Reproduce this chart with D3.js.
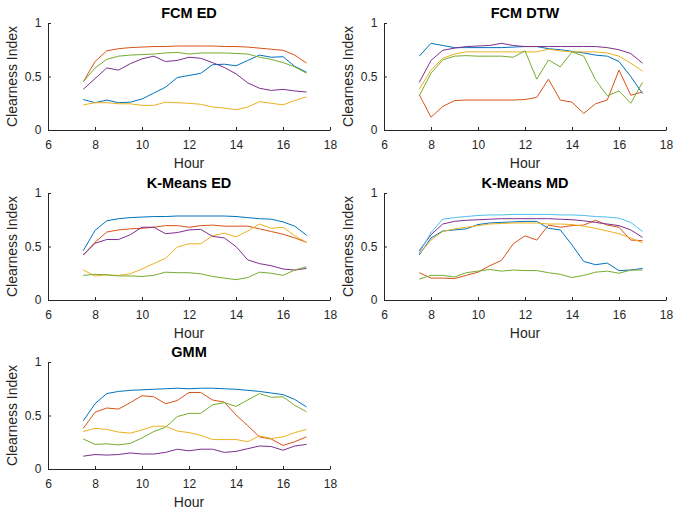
<!DOCTYPE html>
<html>
<head>
<meta charset="utf-8">
<script src="https://cdn.jsdelivr.net/npm/d3@7"></script>
<style>
	body { margin: 0; background: #fff; }
	svg { display: block; }
</style>
</head>
<body>
<svg id="chart"></svg>
<script>
const hours = [7.5, 8, 8.5, 9, 9.5, 10, 10.5, 11, 11.5, 12, 12.5, 13, 13.5, 14, 14.5, 15, 15.5, 16, 16.5, 17];
const xTicks = [6, 8, 10, 12, 14, 16, 18];
const yTicks = [0, 0.5, 1];
const yTickLabels = ['0', '0.5', '1'];

const blue = '#0072BD', orange = '#D95319', yellow = '#EDB120', purple = '#7E2F8E', green = '#77AC30', cyan = '#4DBEEE';

// FCM ED
const fcmEdBlue = [0.285, 0.255, 0.28, 0.255, 0.26, 0.29, 0.345, 0.40, 0.49, 0.51, 0.53, 0.61, 0.615, 0.60, 0.65, 0.70, 0.68, 0.685, 0.595, 0.54];
const fcmEdOrange = [0.45, 0.64, 0.74, 0.76, 0.77, 0.775, 0.78, 0.78, 0.785, 0.785, 0.785, 0.785, 0.78, 0.78, 0.775, 0.765, 0.755, 0.745, 0.70, 0.625];
const fcmEdYellow = [0.235, 0.255, 0.255, 0.245, 0.245, 0.23, 0.23, 0.26, 0.255, 0.25, 0.24, 0.215, 0.205, 0.19, 0.215, 0.265, 0.25, 0.235, 0.275, 0.31];
const fcmEdPurple = [0.38, 0.48, 0.58, 0.56, 0.62, 0.665, 0.69, 0.64, 0.65, 0.68, 0.67, 0.63, 0.585, 0.525, 0.44, 0.39, 0.37, 0.38, 0.365, 0.355];
const fcmEdGreen = [0.45, 0.58, 0.66, 0.69, 0.70, 0.705, 0.71, 0.72, 0.725, 0.71, 0.72, 0.72, 0.72, 0.715, 0.71, 0.68, 0.66, 0.63, 0.59, 0.53];

// FCM DTW
const fcmDtwBlue = [0.69, 0.81, 0.79, 0.77, 0.77, 0.77, 0.77, 0.77, 0.775, 0.78, 0.78, 0.76, 0.75, 0.735, 0.72, 0.70, 0.69, 0.64, 0.50, 0.34];
const fcmDtwOrange = [0.33, 0.12, 0.22, 0.275, 0.28, 0.28, 0.28, 0.28, 0.28, 0.285, 0.305, 0.475, 0.28, 0.26, 0.155, 0.245, 0.28, 0.56, 0.325, 0.355];
const fcmDtwYellow = [0.38, 0.56, 0.67, 0.71, 0.73, 0.73, 0.73, 0.73, 0.73, 0.73, 0.73, 0.755, 0.74, 0.73, 0.73, 0.73, 0.72, 0.69, 0.625, 0.55];
const fcmDtwPurple = [0.445, 0.65, 0.745, 0.765, 0.78, 0.785, 0.79, 0.81, 0.79, 0.78, 0.78, 0.78, 0.78, 0.78, 0.78, 0.78, 0.77, 0.75, 0.715, 0.625];
const fcmDtwGreen = [0.32, 0.53, 0.655, 0.69, 0.695, 0.69, 0.69, 0.69, 0.68, 0.74, 0.475, 0.655, 0.59, 0.73, 0.69, 0.47, 0.32, 0.365, 0.25, 0.445];

// K-Means ED
const kmEdBlue = [0.46, 0.65, 0.74, 0.76, 0.77, 0.775, 0.78, 0.78, 0.785, 0.785, 0.785, 0.785, 0.785, 0.78, 0.77, 0.76, 0.755, 0.73, 0.69, 0.605];
const kmEdOrange = [0.42, 0.54, 0.635, 0.655, 0.665, 0.67, 0.68, 0.695, 0.695, 0.68, 0.695, 0.70, 0.69, 0.69, 0.69, 0.665, 0.64, 0.615, 0.58, 0.54];
const kmEdYellow = [0.28, 0.225, 0.235, 0.23, 0.245, 0.29, 0.34, 0.39, 0.495, 0.525, 0.525, 0.60, 0.625, 0.59, 0.645, 0.71, 0.67, 0.68, 0.60, 0.54];
const kmEdPurple = [0.42, 0.53, 0.565, 0.565, 0.61, 0.68, 0.68, 0.62, 0.63, 0.655, 0.66, 0.595, 0.58, 0.50, 0.375, 0.34, 0.32, 0.29, 0.28, 0.295];
const kmEdGreen = [0.23, 0.24, 0.235, 0.225, 0.225, 0.22, 0.23, 0.26, 0.255, 0.255, 0.245, 0.22, 0.205, 0.19, 0.21, 0.26, 0.25, 0.23, 0.28, 0.31];

// K-Means MD
const kmMdBlue = [0.42, 0.58, 0.645, 0.655, 0.665, 0.705, 0.72, 0.725, 0.73, 0.735, 0.735, 0.67, 0.655, 0.515, 0.36, 0.33, 0.345, 0.275, 0.28, 0.295];
const kmMdOrange = [0.255, 0.205, 0.205, 0.20, 0.23, 0.26, 0.32, 0.37, 0.525, 0.60, 0.56, 0.70, 0.68, 0.695, 0.70, 0.745, 0.70, 0.68, 0.56, 0.555];
const kmMdYellow = [0.43, 0.56, 0.64, 0.665, 0.68, 0.695, 0.71, 0.715, 0.72, 0.72, 0.72, 0.71, 0.71, 0.705, 0.69, 0.67, 0.645, 0.62, 0.58, 0.535];
const kmMdPurple = [0.46, 0.61, 0.71, 0.735, 0.745, 0.75, 0.755, 0.76, 0.76, 0.76, 0.76, 0.76, 0.755, 0.75, 0.74, 0.725, 0.71, 0.695, 0.655, 0.585];
const kmMdGreen = [0.195, 0.23, 0.23, 0.215, 0.255, 0.27, 0.285, 0.27, 0.28, 0.275, 0.275, 0.255, 0.24, 0.21, 0.23, 0.26, 0.27, 0.25, 0.28, 0.28];
const kmMdCyan = [0.44, 0.63, 0.755, 0.77, 0.78, 0.79, 0.795, 0.795, 0.80, 0.80, 0.80, 0.80, 0.795, 0.795, 0.79, 0.78, 0.775, 0.765, 0.725, 0.64];

// GMM
const gmmBlue = [0.45, 0.61, 0.705, 0.725, 0.735, 0.74, 0.745, 0.75, 0.755, 0.75, 0.755, 0.755, 0.75, 0.745, 0.735, 0.725, 0.71, 0.695, 0.65, 0.58];
const gmmOrange = [0.38, 0.53, 0.57, 0.56, 0.62, 0.685, 0.675, 0.61, 0.64, 0.715, 0.715, 0.645, 0.625, 0.505, 0.405, 0.30, 0.28, 0.22, 0.255, 0.30];
const gmmYellow = [0.35, 0.38, 0.37, 0.345, 0.335, 0.365, 0.40, 0.40, 0.355, 0.34, 0.315, 0.275, 0.275, 0.275, 0.255, 0.31, 0.285, 0.30, 0.34, 0.37];
const gmmPurple = [0.12, 0.135, 0.13, 0.135, 0.15, 0.14, 0.14, 0.155, 0.185, 0.17, 0.185, 0.185, 0.155, 0.165, 0.19, 0.215, 0.21, 0.175, 0.215, 0.23];
const gmmGreen = [0.28, 0.23, 0.235, 0.225, 0.24, 0.29, 0.35, 0.39, 0.49, 0.52, 0.52, 0.60, 0.62, 0.585, 0.645, 0.705, 0.67, 0.675, 0.595, 0.535];

const panels = [
	{ title: 'FCM ED', left: 48, top: 23, series: [
		[fcmEdBlue, blue], [fcmEdOrange, orange], [fcmEdYellow, yellow], [fcmEdPurple, purple], [fcmEdGreen, green]] },
	{ title: 'FCM DTW', left: 384, top: 23, series: [
		[fcmDtwBlue, blue], [fcmDtwOrange, orange], [fcmDtwYellow, yellow], [fcmDtwPurple, purple], [fcmDtwGreen, green]] },
	{ title: 'K-Means ED', left: 48, top: 193, series: [
		[kmEdBlue, blue], [kmEdOrange, orange], [kmEdYellow, yellow], [kmEdPurple, purple], [kmEdGreen, green]] },
	{ title: 'K-Means MD', left: 384, top: 193, series: [
		[kmMdBlue, blue], [kmMdOrange, orange], [kmMdYellow, yellow], [kmMdPurple, purple], [kmMdGreen, green], [kmMdCyan, cyan]] },
	{ title: 'GMM', left: 48, top: 362, series: [
		[gmmBlue, blue], [gmmOrange, orange], [gmmYellow, yellow], [gmmPurple, purple], [gmmGreen, green]] }
];

const width = 673, height = 510;
const plotW = 282, plotH = 107;

const svg = d3.select('#chart')
	.attr('width', width)
	.attr('height', height)
	.style('font-family', 'Liberation Sans, Arial, sans-serif');

panels.forEach((p) => {
	const g = svg.append('g').attr('transform', `translate(${p.left},${p.top})`);

	const x = d3.scaleLinear().domain([6, 18]).range([0, plotW]);
	const y = d3.scaleLinear().domain([0, 1]).range([plotH, 0]);

	// x axis, ticks pointing inward
	g.append('g')
		.attr('transform', `translate(0,${plotH})`)
		.call(d3.axisBottom(x).tickValues(xTicks).tickSizeInner(-3).tickSizeOuter(0).tickPadding(10.5))
		.call((a) => a.select('.domain').attr('stroke', '#262626'))
		.call((a) => a.selectAll('.tick line').attr('stroke', '#262626'))
		.call((a) => a.selectAll('.tick text').attr('fill', '#262626').style('font-size', '12px'));

	// y axis
	g.append('g')
		.call(d3.axisLeft(y).tickValues(yTicks).tickFormat((d, i) => yTickLabels[i]).tickSizeInner(-3).tickSizeOuter(0).tickPadding(6.5))
		.call((a) => a.select('.domain').attr('stroke', '#262626'))
		.call((a) => a.selectAll('.tick line').attr('stroke', '#262626'))
		.call((a) => a.selectAll('.tick text').attr('fill', '#262626').style('font-size', '12px'));

	const line = d3.line().x((d, i) => x(hours[i])).y((d) => y(d));

	p.series.forEach(([vals, col]) => {
		g.append('path')
			.datum(vals)
			.attr('fill', 'none')
			.attr('stroke', col)
			.attr('stroke-width', 1)
			.attr('d', line);
	});

	// title
	g.append('text')
		.attr('x', plotW / 2)
		.attr('y', -5.5)
		.attr('text-anchor', 'middle')
		.style('font-size', '14.5px')
		.style('font-weight', 'bold')
		.attr('fill', '#000')
		.text(p.title);

	// x label
	g.append('text')
		.attr('x', plotW / 2)
		.attr('y', plotH + 38)
		.attr('text-anchor', 'middle')
		.style('font-size', '14px')
		.attr('fill', '#262626')
		.text('Hour');

	// y label
	g.append('text')
		.attr('transform', `translate(-31,${plotH / 2}) rotate(-90)`)
		.attr('text-anchor', 'middle')
		.style('font-size', '14px')
		.attr('fill', '#262626')
		.text('Clearness Index');
});
</script>
</body>
</html>
